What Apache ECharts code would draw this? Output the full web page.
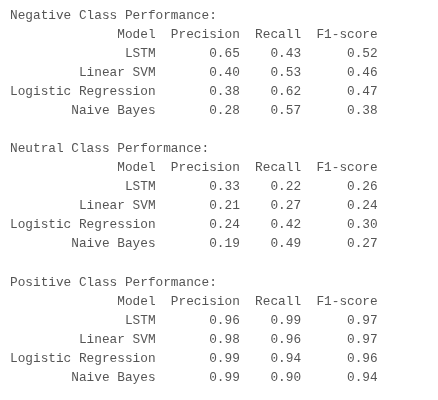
<!DOCTYPE html>
<html>
<head>
<meta charset="utf-8">
<script src="https://cdn.jsdelivr.net/npm/echarts@6/dist/echarts.min.js"></script>
<style>
  html, body { margin: 0; padding: 0; background: #fff; }
  #main { width: 438px; height: 400px; }
</style>
</head>
<body>
<div id="main"></div>
<script>
// ------------------------------------------------ data
var classNames = ['Negative', 'Neutral', 'Positive'];
var columns = ['Model', 'Precision', 'Recall', 'F1-score'];
var models = ['LSTM', 'Linear SVM', 'Logistic Regression', 'Naive Bayes'];

var negativePrecision = [0.65, 0.40, 0.38, 0.28];
var negativeRecall    = [0.43, 0.53, 0.62, 0.57];
var negativeF1        = [0.52, 0.46, 0.47, 0.38];

var neutralPrecision  = [0.33, 0.21, 0.24, 0.19];
var neutralRecall     = [0.22, 0.27, 0.42, 0.49];
var neutralF1         = [0.26, 0.24, 0.30, 0.27];

var positivePrecision = [0.96, 0.98, 0.99, 0.99];
var positiveRecall    = [0.99, 0.96, 0.94, 0.90];
var positiveF1        = [0.97, 0.97, 0.96, 0.94];

var blocks = [
    [negativePrecision, negativeRecall, negativeF1],
    [neutralPrecision, neutralRecall, neutralF1],
    [positivePrecision, positiveRecall, positiveF1]
];

// ------------------------------------------------ text layout (pandas to_string style)
// column end positions in characters, right aligned, two spaces between columns
var colEnds = [];
var pos = 0;
columns.forEach(function (name, c) {
    var w = name.length;
    if (c === 0) {
        models.forEach(function (m) { w = Math.max(w, m.length); });
    } else {
        w = Math.max(w, 4);
        pos += 2;
    }
    pos += w;
    colEnds.push(pos);
});

var cells = [];
var line = 0;
classNames.forEach(function (cls, b) {
    cells.push({x: 0, line: line, text: cls + ' Class Performance:', align: 'left'});
    line++;
    columns.forEach(function (name, c) {
        cells.push({x: colEnds[c], line: line, text: name, align: 'right'});
    });
    line++;
    models.forEach(function (m, r) {
        cells.push({x: colEnds[0], line: line, text: m, align: 'right'});
        blocks[b].forEach(function (arr, k) {
            cells.push({x: colEnds[k + 1], line: line, text: arr[r].toFixed(2), align: 'right'});
        });
        line++;
    });
    line++; // blank line
});

var charW = 7.66;
var lineH = 19.05;
var maxChars = 50;
var maxLine = 19;

echarts.init(document.getElementById('main')).setOption({
    backgroundColor: '#ffffff',
    animation: false,
    grid: {
        left: 10,
        top: 15.5,
        width: maxChars * charW,
        height: maxLine * lineH
    },
    xAxis: {
        type: 'value', min: 0, max: maxChars, show: false
    },
    yAxis: {
        type: 'value', min: 0, max: maxLine, inverse: true, show: false
    },
    series: [
        {
            type: 'custom',
            silent: true,
            clip: false,
            data: cells.map(function (c) { return [c.x, c.line]; }),
            renderItem: function (params, api) {
                var cell = cells[params.dataIndex];
                var pt = api.coord([api.value(0), api.value(1)]);
                return {
                    type: 'text',
                    x: pt[0],
                    y: pt[1],
                    style: {
                        text: cell.text,
                        fill: '#555555',
                        font: '12.77px "Liberation Mono", monospace',
                        align: cell.align,
                        verticalAlign: 'middle'
                    }
                };
            }
        }
    ]
});
</script>
</body>
</html>
